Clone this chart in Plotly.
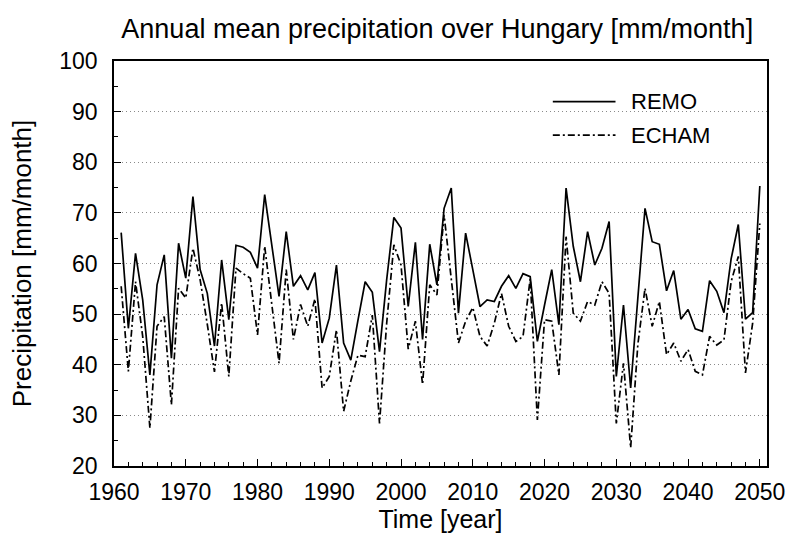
import plotly.graph_objects as go

years = list(range(1961, 2051))

remo = [66.1, 47.2, 62.0, 52.8, 38.0, 55.8, 61.7, 41.3, 64.0, 57.1,
        73.2, 58.8, 54.1, 43.7, 60.7, 48.9, 63.6, 63.2, 62.2, 59.1,
        73.6, 63.5, 53.5, 66.3, 55.5, 57.6, 54.8, 58.2, 44.3, 49.2,
        59.7, 44.3, 40.9, 48.8, 56.4, 54.3, 42.6, 56.8, 69.1, 67.0,
        51.5, 64.2, 45.0, 63.8, 55.8, 70.9, 74.9, 50.2, 66.0, 58.8,
        51.5, 52.8, 52.5, 55.5, 57.6, 55.1, 58.0, 57.4, 44.6, 51.8,
        58.8, 47.9, 74.9, 63.4, 56.4, 66.3, 59.7, 63.0, 68.3, 37.7,
        51.8, 35.4, 53.0, 70.9, 64.3, 63.8, 54.6, 58.6, 49.0, 50.9,
        47.1, 46.6, 56.6, 54.5, 50.3, 60.9, 67.7, 49.0, 50.3, 75.3]

echam = [55.5, 38.7, 56.4, 45.6, 27.5, 47.6, 49.5, 32.1, 55.1, 53.2,
         63.0, 56.8, 48.0, 38.6, 52.2, 37.7, 59.1, 58.0, 57.1, 45.9,
         63.4, 52.0, 40.3, 58.8, 45.0, 51.9, 47.6, 53.0, 35.4, 37.7,
         46.9, 30.8, 36.8, 41.9, 41.6, 49.8, 28.4, 48.2, 63.7, 59.7,
         43.1, 48.6, 36.1, 55.8, 53.8, 69.6, 57.0, 44.3, 48.6, 51.3,
         45.6, 43.7, 48.2, 54.1, 47.6, 44.6, 45.6, 57.0, 29.1, 48.9,
         48.6, 38.0, 65.3, 50.2, 48.6, 52.5, 51.8, 56.4, 54.1, 28.4,
         40.3, 23.6, 44.0, 55.1, 47.6, 52.5, 42.0, 44.3, 40.7, 43.0,
         38.7, 38.0, 45.6, 43.9, 44.9, 56.4, 61.4, 38.4, 48.2, 67.9]

series_names = ["REMO", "ECHAM"]
x_ticks = list(range(1960, 2051, 10))
y_ticks = list(range(20, 101, 10))

FONT = "Liberation Sans, Arial, Helvetica, sans-serif"
SOLID = "solid"
DASHDOT = "7px,3px,2px,3px"
LW = 1.7

fig = go.Figure()
fig.add_trace(go.Scatter(x=years, y=remo, mode="lines", name=series_names[0],
                         showlegend=False,
                         line=dict(color="black", width=LW, dash=SOLID)))
fig.add_trace(go.Scatter(x=years, y=echam, mode="lines", name=series_names[1],
                         showlegend=False,
                         line=dict(color="black", width=LW, dash=DASHDOT)))

# manual legend (box inside the plot, top right)
legend_rows = [(0.8995, SOLID), (0.817, DASHDOT)]
shapes = [dict(type="rect", xref="paper", yref="paper",
               x0=0.649, x1=0.893, y0=0.78, y1=0.945,
               fillcolor="white", line=dict(width=0), layer="between")]
annotations = []
for name, (yy, dash) in zip(series_names, legend_rows):
    shapes.append(dict(type="line", xref="paper", yref="paper",
                       x0=0.672, x1=0.768, y0=yy, y1=yy,
                       line=dict(color="black", width=LW, dash=dash)))
    annotations.append(dict(text=name, xref="paper", yref="paper",
                            x=0.788, y=yy, xanchor="left", yanchor="middle",
                            showarrow=False,
                            font=dict(family=FONT, size=22, color="black")))

fig.update_layout(
    width=794, height=533,
    paper_bgcolor="white", plot_bgcolor="white",
    margin=dict(l=114, r=27, t=61, b=67),
    font=dict(family=FONT, size=22, color="black"),
    title=dict(text="Annual mean precipitation over Hungary [mm/month]",
               xref="paper", x=0.495, xanchor="center",
               y=0.947, yanchor="middle",
               font=dict(family=FONT, size=27, color="black")),
    showlegend=False,
    shapes=shapes,
    annotations=annotations,
)

fig.update_xaxes(range=[1960, 2051], tickvals=x_ticks, ticks="inside",
                 ticklen=7, tickwidth=1.2, tickcolor="black",
                 minor=dict(dtick=2, tick0=1960, ticks="inside", ticklen=4,
                            tickcolor="black"),
                 showline=True, linecolor="black", linewidth=1.7, mirror=True,
                 showgrid=False, zeroline=False, automargin=False,
                 ticklabelstandoff=5,
                 title=dict(text="Time [year]", standoff=6,
                            font=dict(family=FONT, size=25)),
                 tickfont=dict(family=FONT, size=23))
fig.update_yaxes(range=[20, 100], tickvals=y_ticks, ticks="inside",
                 ticklen=7, tickwidth=1.2, tickcolor="black",
                 minor=dict(dtick=5, ticks="inside", ticklen=4, tickcolor="black"),
                 showline=True, linecolor="black", linewidth=1.7, mirror=True,
                 showgrid=True, gridcolor="#8a8a8a", griddash="1px,3px", gridwidth=1,
                 zeroline=False, automargin=False,
                 ticklabelstandoff=10,
                 title=dict(text="Precipitation [mm/month]", standoff=20,
                            font=dict(family=FONT, size=26)),
                 tickfont=dict(family=FONT, size=23))

fig.write_html("out.html", config={"displayModeBar": False},
               post_script="document.body.style.margin='0px';")
